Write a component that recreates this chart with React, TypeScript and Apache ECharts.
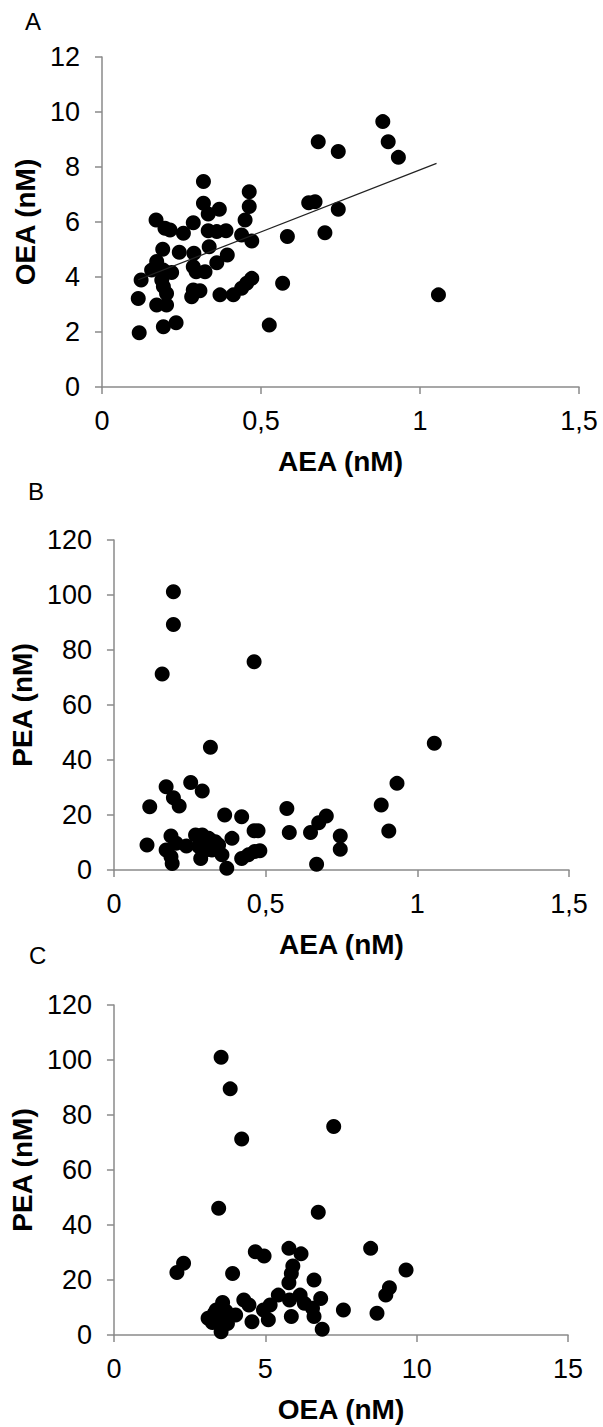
import React, { useEffect, useRef } from "react";
import * as echarts from "echarts";

// Panel A: AEA (nM) vs OEA (nM)
const aeaOeaPoints: number[][] = [
  [0.680, 8.92], [0.743, 8.56], [0.883, 9.65], [0.900, 8.92], [0.932, 8.35],
  [0.319, 7.47], [0.463, 7.10], [0.463, 6.56], [0.319, 6.68], [0.369, 6.46], [0.334, 6.29], [0.450, 6.07],
  [0.650, 6.70], [0.670, 6.74], [0.743, 6.46],
  [0.170, 6.07], [0.198, 5.77], [0.214, 5.71], [0.256, 5.59], [0.287, 5.97], [0.334, 5.68], [0.361, 5.65],
  [0.390, 5.68], [0.439, 5.53], [0.471, 5.31], [0.583, 5.47], [0.701, 5.61],
  [0.191, 5.01], [0.243, 4.90], [0.289, 4.86], [0.337, 5.10], [0.394, 4.80],
  [0.172, 4.56], [0.156, 4.25], [0.193, 4.25], [0.219, 4.16], [0.287, 4.37], [0.296, 4.19], [0.324, 4.19], [0.361, 4.52],
  [0.123, 3.89], [0.188, 3.89], [0.193, 3.65], [0.287, 3.53], [0.308, 3.50], [0.282, 3.28], [0.371, 3.35],
  [0.413, 3.35], [0.439, 3.59], [0.455, 3.77], [0.471, 3.95], [0.568, 3.77],
  [0.114, 3.22], [0.172, 2.98], [0.203, 2.98], [0.203, 3.40], [0.193, 2.19], [0.233, 2.34], [0.117, 1.97],
  [0.526, 2.25], [1.058, 3.35],
];
// Linear trend line of panel A (end points)
const trendA: number[][] = [[0.114, 3.9], [1.052, 8.13]];

// Panel B: AEA (nM) vs PEA (nM)
const aeaPeaPoints: number[][] = [
  [0.196, 101.2], [0.196, 89.3], [0.159, 71.3], [0.462, 75.7], [0.318, 44.6], [1.056, 46.1],
  [0.172, 30.3], [0.253, 31.8], [0.291, 28.7], [0.196, 26.3], [0.215, 23.3], [0.118, 23.0], [0.570, 22.4],
  [0.365, 20.0], [0.421, 19.4], [0.462, 14.3], [0.475, 14.3], [0.578, 13.6], [0.648, 13.6], [0.389, 11.5],
  [0.933, 31.5], [0.881, 23.6], [0.906, 14.2], [0.700, 19.6], [0.675, 17.2], [0.746, 12.4], [0.746, 7.5], [0.668, 2.1],
  [0.109, 9.1], [0.188, 12.4], [0.205, 9.7], [0.172, 7.3], [0.188, 4.8], [0.192, 2.4], [0.239, 8.7],
  [0.269, 12.7], [0.291, 12.7], [0.313, 11.5], [0.334, 10.3], [0.345, 9.1], [0.280, 8.5], [0.302, 7.3],
  [0.323, 7.3], [0.286, 4.2], [0.356, 5.5], [0.372, 0.6],
  [0.421, 4.2], [0.443, 5.5], [0.464, 6.7], [0.481, 7.0],
];

// Panel C: OEA (nM) vs PEA (nM)
const oeaPeaPoints: number[][] = [
  [3.54, 101], [3.84, 89.5], [4.22, 71.3], [7.26, 75.8], [3.46, 46.1], [6.75, 44.6], [8.48, 31.5],
  [5.78, 31.5], [6.18, 29.5], [4.67, 30.3], [4.96, 28.7], [2.30, 26.1], [2.08, 22.7], [3.92, 22.4],
  [5.91, 25.1], [5.86, 22.4], [5.78, 19.0], [6.61, 20.0], [7.58, 9.1], [8.69, 7.9], [6.88, 2.1],
  [6.83, 13.3], [4.29, 12.7], [4.46, 10.9], [4.56, 4.8], [5.16, 10.9], [5.43, 14.5], [5.10, 5.5],
  [4.94, 9.1], [3.11, 6.1], [3.32, 7.9], [3.59, 11.8], [3.54, 1.2], [3.75, 4.2], [4.02, 7.3], [3.59, 3.6],
  [3.38, 9.1], [5.80, 12.7], [5.86, 6.7], [6.15, 14.5], [6.29, 11.5], [6.56, 9.7], [6.61, 6.7],
  [8.98, 14.5], [9.10, 17.2], [9.65, 23.6], [3.45, 5.2], [3.70, 8.6], [3.25, 4.5],
];

const panelLetters = ["A", "B", "C"];
const xTitles = ["AEA (nM)", "AEA (nM)", "OEA (nM)"];
const yTitles = ["OEA (nM)", "PEA (nM)", "PEA (nM)"];
const xMax = [1.5, 1.5, 15];
const xStep = [0.5, 0.5, 5];
const yMax = [12, 120, 120];
const yStep = [2, 20, 20];

const FONT = "'Liberation Sans', Arial, sans-serif";
const AXIS_GRAY = "#8a8a8a";

export default function App() {
  const ref = useRef<HTMLDivElement>(null);

  useEffect(() => {
    if (!ref.current) return;
    const chart = echarts.init(ref.current, undefined, { renderer: "svg" });

    const grids = [
      { left: 102, top: 57, width: 477, height: 330 },
      { left: 107, top: 540, width: 462, height: 330 },
      { left: 104, top: 1005, width: 464, height: 330 },
    ];
    const letterTops = [9, 479, 943];
    const letterLefts = [25, 28, 29];
    const yNameGaps = [44, 58, 55];

    const fmt = (v: number) => String(v).replace(".", ",");

    const xAxes = grids.map((_, i) => ({
      type: "value",
      gridIndex: i,
      min: 0,
      max: xMax[i],
      interval: xStep[i],
      splitLine: { show: false },
      axisLine: { show: true, onZero: false, lineStyle: { color: AXIS_GRAY, width: 1.5 } },
      axisTick: { show: true, length: 7, lineStyle: { color: AXIS_GRAY, width: 1.5 } },
      axisLabel: { color: "#000", fontSize: 27, fontFamily: FONT, margin: 20, formatter: fmt },
      name: xTitles[i],
      nameLocation: "middle",
      nameGap: 60,
      nameTextStyle: { color: "#000", fontSize: 28, fontWeight: "bold", fontFamily: FONT },
    }));

    const yAxes = grids.map((_, i) => ({
      type: "value",
      gridIndex: i,
      min: 0,
      max: yMax[i],
      interval: yStep[i],
      splitLine: { show: false },
      axisLine: { show: true, onZero: false, lineStyle: { color: AXIS_GRAY, width: 1.5 } },
      axisTick: { show: true, length: 7, lineStyle: { color: AXIS_GRAY, width: 1.5 } },
      axisLabel: { color: "#000", fontSize: 27, fontFamily: FONT, margin: 22, formatter: fmt },
      name: yTitles[i],
      nameLocation: "middle",
      nameRotate: 90,
      nameGap: yNameGaps[i],
      nameTextStyle: { color: "#000", fontSize: 28, fontWeight: "bold", fontFamily: FONT },
    }));

    const dotSeries = [aeaOeaPoints, aeaPeaPoints, oeaPeaPoints].map((d, i) => ({
      type: "scatter",
      xAxisIndex: i,
      yAxisIndex: i,
      data: d,
      symbol: "circle",
      symbolSize: 15,
      itemStyle: { color: "#000", opacity: 1 },
      z: 3,
    }));

    chart.setOption({
      animation: false,
      backgroundColor: "#fff",
      grid: grids,
      xAxis: xAxes,
      yAxis: yAxes,
      series: [
        {
          type: "line",
          xAxisIndex: 0,
          yAxisIndex: 0,
          data: trendA,
          symbol: "none",
          lineStyle: { color: "#222", width: 1.3 },
          z: 4,
        },
        ...dotSeries,
      ],
      graphic: panelLetters.map((t, i) => ({
        type: "text",
        left: letterLefts[i],
        top: letterTops[i],
        style: { text: t, fontSize: 24, fontFamily: FONT, fill: "#000" },
      })),
    });

    return () => chart.dispose();
  }, []);

  return (
    <div
      ref={ref}
      style={{ position: "absolute", left: 0, top: 0, width: 603, height: 1427, background: "#fff" }}
    />
  );
}
